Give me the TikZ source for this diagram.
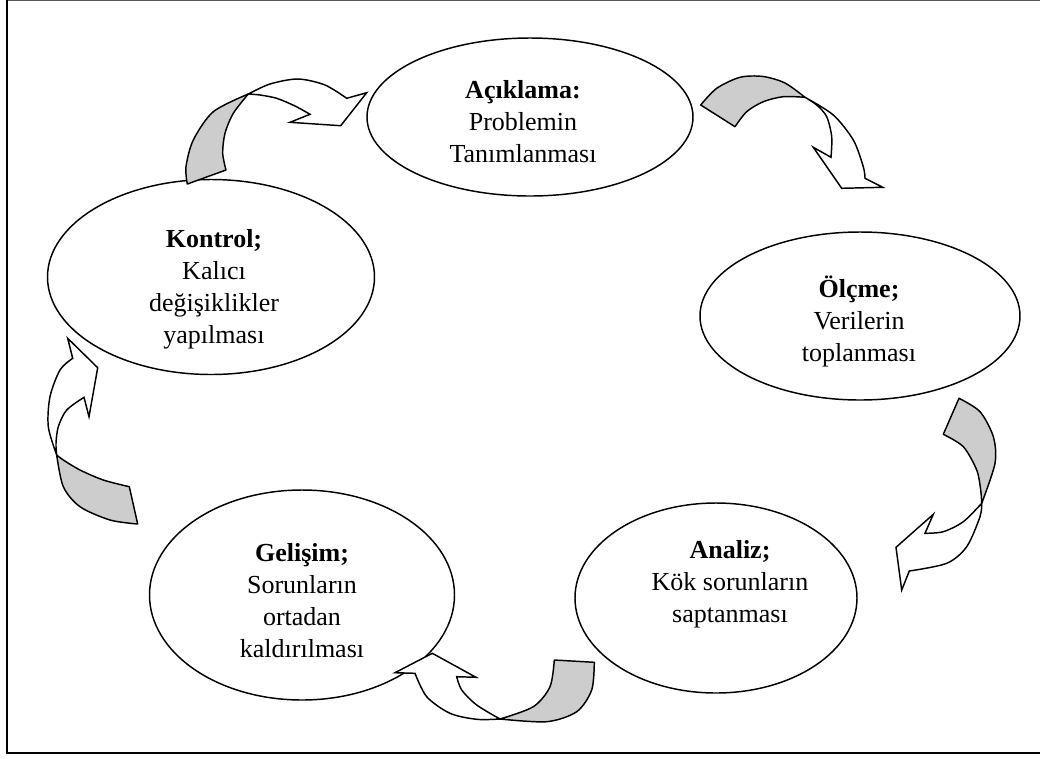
\documentclass[tikz,border=0pt]{standalone}
\usepackage{fontspec}
\setmainfont{Liberation Serif}
\usetikzlibrary{shapes.geometric}
\definecolor{ribbongray}{HTML}{CDCDCD}
\definecolor{framegray}{HTML}{555555}
\tikzset{
  bubble/.style={ellipse, draw=black, line width=1.1pt, inner sep=0pt},
  lbl/.style={anchor=base, inner sep=0pt, font=\fontsize{19.5pt}{24pt}\selectfont},
  ribbonback/.style={draw=black, fill=ribbongray, line width=1.1pt, line join=round},
  ribbonfront/.style={draw=black, fill=white, line width=1.1pt, line join=miter},
  frameline/.style={draw=black, line width=1.5pt},
}
\begin{document}
\begin{tikzpicture}[x=0.75pt, y=-0.75pt]
\useasboundingbox (0,0) rectangle (1040,758);
% frame
\draw[framegray, line width=0.8pt] (1040,0.5) -- (7,0.5);
\draw[frameline] (7,0) -- (7,753) -- (1040,753);

% ellipses
\node[bubble, minimum width=244.5pt, minimum height=118.5pt] (e1) at (530,117) {};
\node[bubble, minimum width=240pt, minimum height=126pt] (e2) at (860,316) {};
\node[bubble, minimum width=211.5pt, minimum height=142.5pt] (e3) at (716,598) {};
\node[bubble, minimum width=228.75pt, minimum height=157.5pt] (e4) at (302,595) {};
\node[bubble, minimum width=245.25pt, minimum height=146.25pt] (e5) at (211,277) {};

% texts
\node[lbl] (t1) at (523,98) {\begin{tabular}[t]{@{}c@{}}\textbf{Açıklama:}\\Problemin\\Tanımlanması\end{tabular}};
\node[lbl] (t2) at (859,297) {\begin{tabular}[t]{@{}c@{}}\textbf{Ölçme;}\\Verilerin\\toplanması\end{tabular}};
\node[lbl] (t3) at (730,558) {\begin{tabular}[t]{@{}c@{}}\textbf{Analiz;}\\Kök sorunların\\saptanması\end{tabular}};
\node[lbl] (t4) at (302,561) {\begin{tabular}[t]{@{}c@{}}\textbf{Gelişim;}\\Sorunların\\ortadan\\kaldırılması\end{tabular}};
\node[lbl] (t5) at (214,247) {\begin{tabular}[t]{@{}c@{}}\textbf{Kontrol;}\\Kalıcı\\değişiklikler\\yapılması\end{tabular}};

% arrow 1 (Kontrol -> Açıklama)
\path[ribbonback] plot[smooth] coordinates {(187.3,184) (186,166.7) (193.3,140) (213.3,111.7) (248.3,94)}
  -- plot[smooth] coordinates {(248.3,94) (233.3,113.3) (225,133.3) (222.7,153.3) (226,170)} -- cycle;
\path[ribbonfront] plot[smooth] coordinates {(248.3,94) (270,84) (298,79) (325,85) (346.7,98.3)}
  -- (366.7,92.7) -- (340.7,125.7) -- (290,122.3)
  -- plot[smooth] coordinates {(310,114.3) (295,106) (276.7,98.3) (260,95) (248.3,94)} -- cycle;

% arrow 2 (Açıklama -> Ölçme)
\path[ribbonback] plot[smooth] coordinates {(700.7,105) (716.7,88.3) (740,77.3) (763,76.5) (785,83) (805,97.3)}
  -- plot[smooth] coordinates {(805,97.3) (783.3,96.7) (763.3,101.7) (746.7,111.7) (735,126.7)} -- cycle;
\path[ribbonfront] plot[smooth] coordinates {(805,97.3) (833.3,115) (853.3,140) (863.3,166.7) (865,178.3)}
  -- (882.7,187.3) -- (841.7,188.3) -- (813.3,147.3)
  -- plot[smooth] coordinates {(831,157.3) (831.7,136.7) (826.7,116.7) (816.7,105) (805,97.3)} -- cycle;

% arrow 3 (Ölçme -> Analiz)
\path[ribbonback] plot[smooth] coordinates {(959,398.3) (980,411.7) (993.3,436.7) (995,463.3) (981.7,503.3)}
  -- plot[smooth] coordinates {(981.7,503.3) (980.7,490) (976.7,470) (963.3,446.7) (943.3,434.3)} -- cycle;
\path[ribbonfront] plot[smooth] coordinates {(981.7,503.3) (963.3,521.7) (943.3,531.7) (925,533.3)}
  -- (933.3,514.3) -- (896,547.3) -- (901.7,590)
  -- plot[smooth] coordinates {(909.3,571) (946.7,563.3) (966.7,546.7) (980,516.7) (981.7,503.3)} -- cycle;

% arrow 4 (Analiz -> Gelişim)
\path[ribbonback] plot[smooth] coordinates {(594.3,662.3) (591.7,690) (576.7,711.7) (546.7,721.7) (500,719)}
  -- plot[smooth] coordinates {(500,719) (533.3,706.7) (550,686.7) (554.3,660)} -- cycle;
\path[ribbonfront] plot[smooth] coordinates {(500,719) (476.7,705) (461.7,690) (456.7,676.7)}
  -- (476,677.3) -- (432.3,653.3) -- (395,672.7)
  -- plot[smooth] coordinates {(415,673.3) (426.7,696.7) (450,713.3) (476.7,719.3) (500,719)} -- cycle;

% arrow 5 (Gelişim -> Kontrol)
\path[ribbonback] plot[smooth] coordinates {(129.3,486.7) (103.3,480) (80,470) (63.3,460) (56.7,455)}
  -- plot[smooth] coordinates {(56.7,455) (63.3,486.7) (80,506.7) (110,520) (137.7,524)} -- cycle;
\path[ribbonfront] plot[smooth] coordinates {(56.7,455) (48.3,426.7) (50,396.7) (60,370) (72.7,358.3)}
  -- (67.7,338.3) -- (97.7,367.7) -- (89,416.7)
  -- plot[smooth] coordinates {(84,397.3) (66.7,410) (58.3,426.7) (56,443.3) (56.7,455)} -- cycle;
\end{tikzpicture}
\end{document}
